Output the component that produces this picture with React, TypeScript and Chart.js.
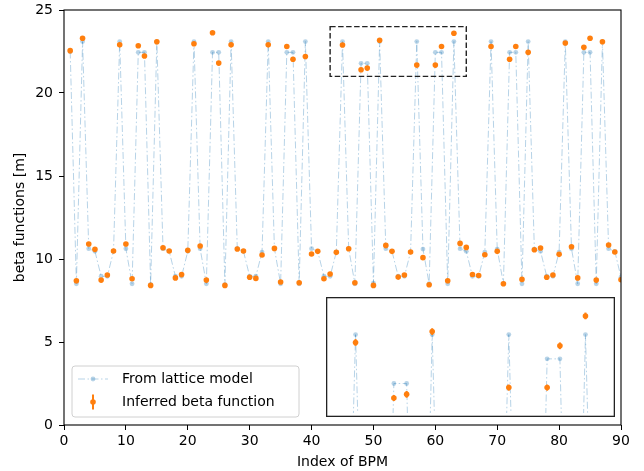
import React, { useEffect, useRef } from "react";
import { Chart, registerables } from "chart.js";

Chart.register(...registerables);

// ---------------- data ----------------
const bpmIndex: number[] = Array.from({ length: 90 }, (_, i) => i + 1);

const latticeBeta: number[] = [
  22.5, 8.51, 23.1, 10.62, 10.46, 8.96, 8.96, 10.46, 23.1, 10.62,
  8.51, 22.45, 22.45, 8.45, 23.1, 10.62, 10.46, 8.96, 8.96, 10.46,
  23.1, 10.62, 8.51, 22.45, 22.45, 8.45, 23.1, 10.62, 10.46, 8.96,
  8.96, 10.42, 23.1, 10.62, 8.51, 22.45, 22.45, 8.51, 23.1, 10.62,
  10.46, 8.96, 8.96, 10.42, 23.1, 10.62, 8.51, 21.79, 21.79, 8.55,
  23.1, 10.62, 10.46, 8.96, 8.96, 10.42, 23.1, 10.6, 8.51, 22.45,
  22.45, 8.51, 23.1, 10.62, 10.46, 8.96, 8.96, 10.42, 23.1, 10.6,
  8.51, 22.45, 22.45, 8.51, 23.1, 10.6, 10.46, 8.96, 8.96, 10.42,
  23.1, 10.62, 8.51, 22.45, 22.45, 8.51, 23.1, 10.62, 10.46, 8.9,
];

const inferredBeta: number[] = [
  22.55, 8.69, 23.3, 10.9, 10.58, 8.73, 9.04, 10.48, 22.9, 10.9,
  8.81, 22.85, 22.23, 8.41, 23.09, 10.68, 10.48, 8.86, 9.06, 10.52,
  22.97, 10.78, 8.73, 23.63, 21.8, 8.41, 22.9, 10.6, 10.48, 8.9,
  8.83, 10.24, 22.9, 10.64, 8.61, 22.8, 22.03, 8.57, 22.2, 10.3,
  10.46, 8.81, 9.1, 10.4, 22.89, 10.62, 8.57, 21.4, 21.5, 8.41,
  23.18, 10.82, 10.46, 8.91, 9.04, 10.42, 21.68, 10.08, 8.45, 21.68,
  22.8, 8.69, 23.6, 10.94, 10.7, 9.07, 9.01, 10.26, 22.8, 10.46,
  8.51, 22.03, 22.8, 8.77, 22.45, 10.56, 10.66, 8.9, 9.04, 10.28,
  23.01, 10.74, 8.86, 22.75, 23.3, 8.73, 23.09, 10.84, 10.42, 8.75,
];

const inferredErr: number[] = [
  0.09, 0.04, 0.09, 0.04, 0.04, 0.04, 0.04, 0.04, 0.09, 0.04,
  0.04, 0.09, 0.09, 0.04, 0.09, 0.04, 0.04, 0.04, 0.04, 0.04,
  0.09, 0.04, 0.04, 0.09, 0.09, 0.04, 0.09, 0.04, 0.04, 0.04,
  0.04, 0.04, 0.09, 0.04, 0.04, 0.09, 0.09, 0.04, 0.09, 0.04,
  0.04, 0.04, 0.04, 0.04, 0.09, 0.04, 0.04, 0.08, 0.09, 0.04,
  0.09, 0.04, 0.04, 0.04, 0.04, 0.04, 0.08, 0.04, 0.04, 0.08,
  0.09, 0.04, 0.09, 0.04, 0.04, 0.04, 0.04, 0.04, 0.09, 0.04,
  0.04, 0.09, 0.09, 0.04, 0.09, 0.04, 0.04, 0.04, 0.04, 0.04,
  0.09, 0.04, 0.04, 0.09, 0.09, 0.04, 0.09, 0.04, 0.04, 0.04,
];

const xTicks: number[] = [0, 10, 20, 30, 40, 50, 60, 70, 80, 90];
const yTicks: number[] = [0, 5, 10, 15, 20, 25];
const zoomXRange: number[] = [43, 65];
const zoomYRange: number[] = [21, 24];

const seriesLabels: string[] = ["From lattice model", "Inferred beta function"];
const xTitle = "Index of BPM";
const yTitle = "beta functions [m]";

// ---------------- styles ----------------
const FONT = "'DejaVu Sans', sans-serif";
const BLUE = "rgba(31,119,180,0.32)";
const ORANGE = "#ff7f0e";
const DASHDOT = [7, 2.5, 1.5, 2.5];

const W = 644;
const H = 471;
const INSET = { left: 326, top: 297, width: 289, height: 120 };

function makeDatasets(): any[] {
  return [
    {
      label: seriesLabels[1],
      data: bpmIndex.map((x, i) => ({ x, y: inferredBeta[i] })),
      showLine: false,
      pointRadius: 2.8,
      pointBackgroundColor: ORANGE,
      pointBorderWidth: 0,
      borderColor: ORANGE,
      order: 0,
    },
    {
      label: seriesLabels[0],
      data: bpmIndex.map((x, i) => ({ x, y: latticeBeta[i] })),
      showLine: true,
      borderColor: BLUE,
      borderWidth: 1,
      borderDash: DASHDOT,
      tension: 0,
      pointRadius: 2.4,
      pointBackgroundColor: BLUE,
      pointBorderWidth: 0,
      order: 1,
    },
  ];
}

const errorBarPlugin = {
  id: "errorBars",
  afterDatasetsDraw(chart: any) {
    const { ctx, chartArea, scales } = chart;
    ctx.save();
    ctx.beginPath();
    ctx.rect(chartArea.left, chartArea.top, chartArea.right - chartArea.left, chartArea.bottom - chartArea.top);
    ctx.clip();
    ctx.strokeStyle = ORANGE;
    ctx.lineWidth = 2;
    bpmIndex.forEach((x, i) => {
      const px = scales.x.getPixelForValue(x);
      const y1 = scales.y.getPixelForValue(inferredBeta[i] - inferredErr[i]);
      const y2 = scales.y.getPixelForValue(inferredBeta[i] + inferredErr[i]);
      ctx.beginPath();
      ctx.moveTo(px, y1);
      ctx.lineTo(px, y2);
      ctx.stroke();
    });
    ctx.restore();
  },
};

const mainDecorPlugin = {
  id: "mainDecor",
  afterDatasetsDraw(chart: any) {
    const { ctx, scales } = chart;
    const x1 = scales.x.getPixelForValue(zoomXRange[0]);
    const x2 = scales.x.getPixelForValue(zoomXRange[1]);
    const y1 = scales.y.getPixelForValue(zoomYRange[1]);
    const y2 = scales.y.getPixelForValue(zoomYRange[0]);
    ctx.save();
    ctx.strokeStyle = "#222";
    ctx.lineWidth = 1.4;
    ctx.setLineDash([5.5, 2.5]);
    ctx.strokeRect(x1, y1, x2 - x1, y2 - y1);
    ctx.restore();
  },
  afterDraw(chart: any) {
    const { ctx, chartArea } = chart;
    ctx.save();
    ctx.strokeStyle = "#000";
    ctx.lineWidth = 1.1;
    ctx.strokeRect(chartArea.left, chartArea.top, chartArea.right - chartArea.left, chartArea.bottom - chartArea.top);

    const lx = 72, ly = 366, lw = 227, lh = 51, r = 3;
    ctx.beginPath();
    ctx.moveTo(lx + r, ly);
    ctx.lineTo(lx + lw - r, ly);
    ctx.quadraticCurveTo(lx + lw, ly, lx + lw, ly + r);
    ctx.lineTo(lx + lw, ly + lh - r);
    ctx.quadraticCurveTo(lx + lw, ly + lh, lx + lw - r, ly + lh);
    ctx.lineTo(lx + r, ly + lh);
    ctx.quadraticCurveTo(lx, ly + lh, lx, ly + lh - r);
    ctx.lineTo(lx, ly + r);
    ctx.quadraticCurveTo(lx, ly, lx + r, ly);
    ctx.closePath();
    ctx.fillStyle = "rgba(255,255,255,0.8)";
    ctx.fill();
    ctx.strokeStyle = "#d0d0d0";
    ctx.lineWidth = 1;
    ctx.stroke();

    const row1 = 379, row2 = 402;
    ctx.strokeStyle = BLUE;
    ctx.lineWidth = 1;
    ctx.setLineDash(DASHDOT);
    ctx.beginPath();
    ctx.moveTo(78, row1);
    ctx.lineTo(108, row1);
    ctx.stroke();
    ctx.setLineDash([]);
    ctx.fillStyle = BLUE;
    ctx.beginPath();
    ctx.arc(93, row1, 2.4, 0, Math.PI * 2);
    ctx.fill();

    ctx.strokeStyle = ORANGE;
    ctx.lineWidth = 2;
    ctx.beginPath();
    ctx.moveTo(93, row2 - 7.5);
    ctx.lineTo(93, row2 + 7.5);
    ctx.stroke();
    ctx.fillStyle = ORANGE;
    ctx.beginPath();
    ctx.arc(93, row2, 2.8, 0, Math.PI * 2);
    ctx.fill();

    ctx.fillStyle = "#000";
    ctx.font = `14px ${FONT}`;
    ctx.textAlign = "left";
    ctx.textBaseline = "middle";
    ctx.fillText(seriesLabels[0], 122, row1);
    ctx.fillText(seriesLabels[1], 122, row2);
    ctx.restore();
  },
};

const insetDecorPlugin = {
  id: "insetDecor",
  beforeDraw(chart: any) {
    const { ctx, width, height } = chart;
    ctx.save();
    ctx.fillStyle = "#fff";
    ctx.fillRect(0, 0, width, height);
    ctx.restore();
  },
  afterDraw(chart: any) {
    const { ctx, width, height } = chart;
    ctx.save();
    ctx.strokeStyle = "#222";
    ctx.lineWidth = 1.3;
    ctx.strokeRect(0.65, 0.65, width - 1.3, height - 1.3);
    ctx.restore();
  },
};

export default function App() {
  const mainRef = useRef<HTMLCanvasElement | null>(null);
  const insetRef = useRef<HTMLCanvasElement | null>(null);

  useEffect(() => {
    if (!mainRef.current || !insetRef.current) return;
    const tickFont = { family: FONT, size: 14 };

    const main = new Chart(mainRef.current, {
      type: "line",
      data: { datasets: makeDatasets() },
      options: {
        responsive: false,
        animation: false,
        devicePixelRatio: 1,
        layout: { padding: { top: 10, right: 23, left: 0, bottom: 0 } },
        plugins: { legend: { display: false }, tooltip: { enabled: false } },
        scales: {
          x: {
            type: "linear",
            min: 0,
            max: 90,
            afterBuildTicks: (s: any) => {
              s.ticks = xTicks.map((v) => ({ value: v }));
            },
            afterFit: (s: any) => {
              s.height = 46;
              s.paddingLeft = 0;
              s.paddingRight = 0;
            },
            ticks: { color: "#000", font: tickFont, padding: 3, maxRotation: 0 },
            grid: { display: true, drawOnChartArea: false, drawTicks: true, tickLength: 5, color: "#000", lineWidth: 1 },
            border: { display: false },
            title: {
              display: true,
              text: xTitle,
              color: "#000",
              font: { family: FONT, size: 14, lineHeight: 1.2 },
              padding: { top: 0, bottom: 0 },
            },
          },
          y: {
            type: "linear",
            min: 0,
            max: 25,
            afterBuildTicks: (s: any) => {
              s.ticks = yTicks.map((v) => ({ value: v }));
            },
            afterFit: (s: any) => {
              s.width = 64;
              s.paddingTop = 0;
              s.paddingBottom = 0;
            },
            ticks: { color: "#000", font: tickFont, padding: 6 },
            grid: { display: true, drawOnChartArea: false, drawTicks: true, tickLength: 5, color: "#000", lineWidth: 1 },
            border: { display: false },
            title: {
              display: true,
              text: yTitle,
              color: "#000",
              font: { family: FONT, size: 14, lineHeight: 1.2 },
              padding: { top: 12, bottom: 0 },
            },
          },
        },
      } as any,
      plugins: [errorBarPlugin, mainDecorPlugin],
    });

    const inset = new Chart(insetRef.current, {
      type: "line",
      data: { datasets: makeDatasets() },
      options: {
        responsive: false,
        animation: false,
        devicePixelRatio: 1,
        layout: { padding: 0 },
        plugins: { legend: { display: false }, tooltip: { enabled: false } },
        scales: {
          x: { type: "linear", min: zoomXRange[0], max: zoomXRange[1], display: false },
          y: { type: "linear", min: zoomYRange[0], max: zoomYRange[1], display: false },
        },
      } as any,
      plugins: [insetDecorPlugin, errorBarPlugin],
    });

    return () => {
      main.destroy();
      inset.destroy();
    };
  }, []);

  return (
    <div style={{ position: "fixed", left: 0, top: 0, width: W, height: H, background: "#fff" }}>
      <canvas ref={mainRef} width={W} height={H} style={{ position: "absolute", left: 0, top: 0, display: "block" }} />
      <canvas
        ref={insetRef}
        width={INSET.width}
        height={INSET.height}
        style={{ position: "absolute", left: INSET.left, top: INSET.top, display: "block" }}
      />
    </div>
  );
}
